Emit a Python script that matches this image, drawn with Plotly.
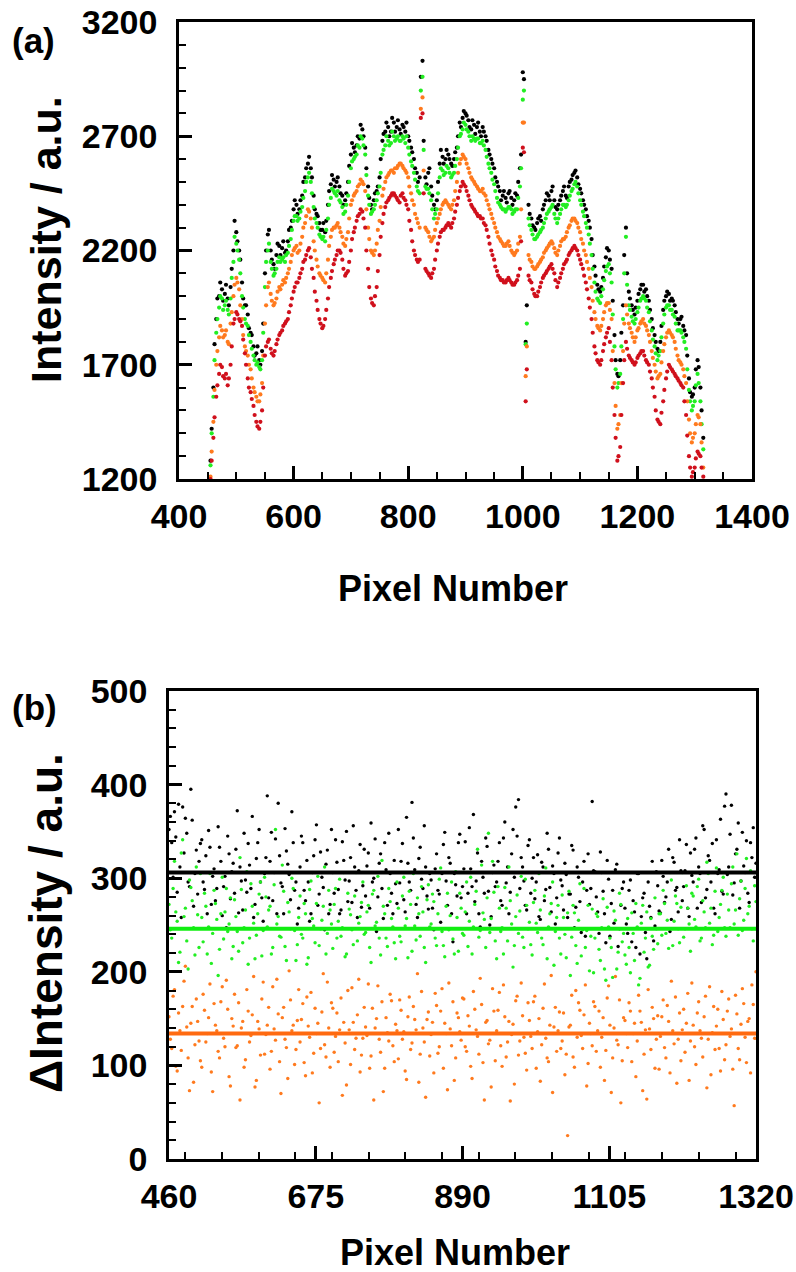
import plotly.graph_objects as go

# ---------------- panel (a) data ----------------
pixel_a = list(range(455, 1316, 5))
pixel_a_mid = list(range(457, 1313, 5))

black_a = [1280,1600,1900,2000,2030,2010,1990,2040,2200,2280,
           2200,2060,1960,1920,1840,1780,1750,1720,1760,2100,
           2270,2200,2140,2180,2220,2210,2190,2240,2300,2380,
           2400,2380,2440,2520,2580,2560,2440,2360,2320,2290,
           2280,2400,2490,2510,2500,2480,2440,2420,2500,2620,
           2650,2660,2690,2730,2650,2480,2400,2420,2460,2520,
           2680,2720,2740,2720,2760,2740,2730,2750,2720,2700,
           2650,2600,2540,2520,3030,2520,2540,2480,2400,2420,
           2580,2610,2600,2620,2580,2600,2650,2760,2780,2800,
           2770,2730,2750,2740,2720,2740,2700,2640,2600,2560,
           2500,2460,2440,2430,2450,2430,2420,2440,2560,2980,
           1800,2400,2340,2300,2320,2350,2380,2420,2440,2460,
           2420,2380,2420,2460,2440,2480,2510,2540,2520,2470,
           2420,2380,2330,2250,2130,2050,2020,2080,2170,2200,
           2120,1830,1660,1720,1960,2300,2020,1960,1920,1980,
           2030,2050,2030,1980,1900,1830,1770,1800,1940,2000,
           2010,1990,1960,1900,1900,1870,1830,1640,1560,1600,
           1720,1600,1380]

green_a = [1260,1560,1840,1950,1990,1960,1940,1990,2150,2230,
           2160,2000,1900,1870,1800,1740,1700,1690,1720,2040,
           2200,2150,2090,2120,2170,2160,2150,2190,2250,2330,
           2350,2340,2390,2460,2520,2500,2390,2320,2270,2250,
           2240,2340,2430,2460,2440,2420,2390,2370,2440,2560,
           2600,2620,2650,2690,2620,2440,2360,2380,2420,2480,
           2620,2660,2680,2670,2700,2690,2680,2700,2670,2650,
           2590,2540,2480,2450,2960,2480,2470,2420,2340,2380,
           2520,2550,2540,2560,2520,2540,2600,2700,2730,2750,
           2720,2680,2690,2690,2670,2680,2640,2580,2540,2490,
           2430,2400,2380,2370,2390,2380,2370,2380,2480,2860,
           1790,2340,2290,2250,2260,2280,2300,2340,2370,2390,
           2360,2320,2360,2400,2390,2420,2460,2490,2480,2420,
           2370,2320,2270,2180,2060,1990,1970,2030,2110,2140,
           2060,1780,1600,1660,1900,2260,1960,1910,1880,1930,
           1980,2000,1980,1930,1850,1780,1720,1760,1880,1950,
           1960,1940,1910,1850,1850,1820,1770,1590,1500,1540,
           1660,1540,1330]

orange_a = [1210,1450,1700,1820,1850,1830,1800,1880,2000,2080,
            2030,1900,1780,1740,1680,1600,1560,1540,1620,1880,
            2040,2010,1960,1990,2040,2050,2060,2100,2150,2200,
            2220,2200,2260,2320,2380,2340,2240,2160,2100,2080,
            2060,2160,2260,2300,2310,2300,2260,2220,2280,2400,
            2440,2460,2490,2500,2460,2300,2200,2180,2230,2330,
            2440,2500,2530,2550,2540,2560,2580,2570,2550,2520,
            2450,2400,2340,2300,2870,2300,2280,2240,2260,2320,
            2360,2400,2420,2400,2380,2420,2500,2580,2620,2600,
            2560,2520,2500,2480,2460,2470,2440,2400,2360,2320,
            2280,2250,2230,2220,2240,2200,2180,2200,2260,2760,
            1650,2180,2150,2120,2130,2150,2170,2200,2220,2240,
            2210,2180,2220,2250,2260,2300,2330,2340,2320,2280,
            2230,2180,2120,2040,1930,1870,1850,1900,1960,1970,
            1900,1620,1420,1480,1760,1960,1880,1840,1800,1850,
            1880,1900,1870,1830,1760,1700,1640,1660,1760,1820,
            1850,1830,1800,1740,1710,1680,1620,1460,1360,1400,
            1480,1440,1250]

red_a = [1200,1380,1560,1660,1690,1640,1610,1700,1880,1930,
         1900,1870,1750,1640,1580,1520,1450,1420,1500,1740,
         1800,1770,1740,1790,1830,1850,1880,1900,1960,2020,
         2060,2080,2120,2160,2200,2170,2080,1980,1900,1860,
         1900,1990,2080,2140,2180,2200,2160,2090,2110,2200,
         2280,2330,2360,2370,2300,2120,1990,1960,2040,2180,
         2320,2390,2420,2440,2450,2430,2410,2450,2420,2380,
         2290,2200,2160,2160,2800,2120,2100,2080,2120,2200,
         2260,2290,2300,2320,2300,2340,2400,2460,2500,2480,
         2440,2400,2380,2360,2350,2340,2310,2260,2200,2160,
         2110,2080,2070,2060,2080,2060,2050,2070,2120,2650,
         1540,2090,2060,2010,2000,2040,2080,2100,2120,2140,
         2100,2040,2080,2120,2150,2180,2200,2220,2200,2160,
         2120,2060,1990,1900,1780,1720,1700,1760,1820,1860,
         1720,1480,1280,1340,1620,1800,1740,1720,1700,1730,
         1750,1760,1720,1700,1640,1560,1460,1440,1540,1640,
         1700,1680,1660,1640,1620,1600,1480,1300,1210,1250,
         1320,1300,1210]

black_a_mid = [1420,1790,1990,2060,1980,2050,1960,2120,2330,2240,
               2160,1990,1960,1860,1830,1740,1780,1700,1880,2200,
               2290,2160,2120,2230,2180,2240,2200,2290,2330,2420,
               2360,2420,2500,2560,2610,2520,2380,2350,2290,2320,
               2330,2460,2530,2480,2520,2450,2400,2450,2570,2670,
               2630,2700,2750,2700,2560,2430,2380,2450,2480,2600,
               2710,2760,2700,2780,2720,2770,2710,2740,2760,2680,
               2630,2560,2500,2960,2680,2490,2560,2440,2380,2500,
               2640,2580,2640,2600,2570,2630,2700,2740,2810,2790,
               2740,2770,2710,2760,2700,2720,2680,2620,2580,2520,
               2480,2420,2460,2410,2460,2400,2450,2500,2620,2950,
               1960,2360,2310,2290,2340,2330,2400,2450,2420,2480,
               2390,2400,2440,2480,2430,2500,2530,2550,2490,2450,
               2400,2350,2300,2180,2090,2030,2040,2130,2210,2160,
               1980,1720,1650,1840,2180,2100,1990,1940,1950,2010,
               2050,2020,2000,1940,1860,1800,1760,1870,1980,2020,
               1980,1980,1930,1880,1910,1850,1740,1580,1570,1680,
               1690,1500]

green_a_mid = [1400,1720,1900,2000,1940,1980,1920,2080,2260,2200,
               2100,1950,1880,1830,1770,1720,1710,1680,1840,2150,
               2230,2120,2100,2150,2150,2170,2180,2220,2290,2350,
               2330,2370,2430,2500,2540,2450,2340,2300,2260,2260,
               2290,2400,2470,2450,2460,2410,2360,2400,2500,2590,
               2610,2660,2700,2660,2530,2400,2370,2400,2450,2540,
               2640,2700,2660,2720,2680,2700,2680,2690,2700,2620,
               2570,2510,2460,2900,2640,2470,2450,2380,2360,2450,
               2560,2530,2570,2540,2530,2570,2650,2710,2760,2730,
               2700,2700,2680,2690,2670,2660,2610,2560,2510,2460,
               2410,2390,2380,2380,2390,2360,2380,2430,2560,2900,
               1880,2310,2270,2250,2270,2290,2320,2360,2380,2400,
               2340,2340,2380,2400,2400,2440,2470,2500,2450,2400,
               2350,2300,2230,2120,2020,1980,2000,2070,2130,2100,
               1920,1680,1620,1780,2100,2050,1940,1890,1900,1950,
               1990,1990,1950,1890,1810,1750,1740,1820,1920,1960,
               1940,1920,1880,1850,1840,1800,1680,1540,1520,1610,
               1620,1440]

orange_a_mid = [1320,1590,1760,1870,1820,1850,1790,1930,2050,2060,
                1960,1830,1760,1700,1640,1580,1540,1570,1740,1960,
                2060,1980,1970,2020,2030,2070,2080,2120,2180,2210,
                2190,2230,2300,2350,2370,2300,2200,2130,2090,2070,
                2100,2220,2290,2300,2320,2280,2230,2250,2340,2420,
                2450,2480,2510,2490,2380,2250,2190,2200,2290,2390,
                2470,2520,2540,2550,2560,2570,2580,2560,2540,2480,
                2420,2360,2320,2820,2550,2290,2260,2250,2290,2340,
                2380,2410,2410,2390,2400,2460,2540,2600,2610,2580,
                2540,2510,2490,2470,2460,2450,2420,2380,2340,2300,
                2260,2240,2220,2230,2220,2190,2190,2230,2380,2760,
                1780,2160,2130,2120,2140,2160,2190,2210,2230,2230,
                2190,2200,2240,2250,2280,2310,2340,2330,2300,2250,
                2200,2150,2080,1980,1900,1860,1870,1930,1970,1940,
                1760,1520,1440,1620,1880,1920,1860,1820,1820,1860,
                1890,1880,1850,1800,1730,1670,1650,1710,1790,1840,
                1840,1820,1770,1720,1700,1650,1540,1400,1380,1440,
                1470,1360]

red_a_mid = [1280,1470,1610,1700,1650,1660,1640,1780,1900,1920,
             1890,1810,1700,1600,1550,1480,1430,1450,1600,1780,
             1810,1750,1760,1810,1840,1870,1890,1930,1990,2040,
             2060,2100,2150,2180,2210,2120,2020,1940,1880,1870,
             1940,2040,2110,2160,2200,2190,2120,2100,2150,2250,
             2300,2350,2380,2340,2200,2040,1970,2000,2110,2260,
             2360,2410,2430,2450,2440,2420,2440,2430,2400,2330,
             2240,2180,2150,2780,2450,2110,2090,2100,2160,2230,
             2280,2290,2310,2310,2320,2370,2430,2480,2490,2460,
             2420,2390,2370,2350,2340,2320,2290,2230,2180,2130,
             2090,2070,2060,2070,2070,2050,2060,2090,2240,2630,
             1680,2070,2030,2000,2020,2060,2090,2110,2130,2120,
             2070,2060,2100,2140,2160,2190,2210,2210,2180,2140,
             2090,2030,1950,1840,1750,1710,1720,1790,1840,1800,
             1600,1380,1300,1480,1720,1770,1730,1710,1710,1740,
             1760,1740,1710,1670,1600,1500,1450,1490,1590,1670,
             1690,1670,1650,1630,1610,1540,1390,1250,1230,1290,
             1310,1250]

# ---------------- panel (b) data ----------------
pixel_b = list(range(460, 1321, 4))
pixel_b_mid = list(range(462, 1319, 4))

dblack_b = [352,338,371,285,312,376,364,296,395,270,330,318,
            341,288,262,333,302,276,355,318,291,247,326,307,
            284,372,312,266,298,337,289,258,321,352,279,305,
            388,318,276,342,380,295,262,329,304,371,287,251,
            312,338,276,296,262,324,357,283,301,245,330,272,
            306,341,288,266,319,350,297,274,312,258,336,292,
            281,327,359,300,243,316,289,338,271,305,262,294,
            352,318,277,365,296,381,309,258,333,289,312,267,
            298,245,326,283,305,349,271,316,232,293,338,279,
            310,262,354,291,275,327,248,301,343,286,259,314,
            296,338,271,360,312,285,352,376,384,322,297,266,
            341,300,278,325,256,312,288,331,264,305,279,343,
            292,316,258,283,330,269,301,242,318,287,272,382,
            307,264,328,286,231,299,273,252,315,246,289,268,
            241,298,276,226,305,259,284,214,270,318,249,292,
            263,302,280,331,256,317,290,341,276,308,268,327,
            296,343,312,274,352,288,319,337,262,305,363,283,
            390,312,378,295,331,268,349,306,284,338,354,316]

dblack_b_mid = [366,301,344,379,258,327,348,291,362,305,283,337,
                296,324,351,272,310,289,333,260,302,345,278,316,
                331,263,297,348,285,314,366,272,338,296,254,322,
                279,349,306,262,324,291,353,315,277,338,296,268,
                345,287,319,254,306,341,271,328,290,315,262,352,
                284,317,262,339,298,275,322,356,287,308,269,331,
                313,268,296,342,280,326,257,309,348,284,319,273,
                295,337,264,316,287,343,272,321,299,356,281,305,
                268,310,287,253,336,297,322,262,305,281,347,291,
                339,284,310,368,297,262,318,284,334,250,306,291,
                318,276,343,295,262,326,301,345,289,312,271,335,
                284,322,296,259,317,276,348,290,313,251,327,298,
                266,304,283,335,247,312,275,296,238,326,289,308,
                280,241,306,262,319,238,287,309,227,271,296,251,
                287,232,264,305,219,279,242,296,258,233,307,265,
                319,274,296,243,322,287,264,308,291,336,259,303,
                331,268,305,356,279,324,296,268,341,309,286,377,
                304,347,282,326,359,297,313,340,274,322,301]

dgreen_b = [272,236,318,254,221,341,268,203,290,247,312,226,
            258,284,219,305,241,273,196,262,235,289,251,214,
            277,243,322,231,266,208,294,252,239,283,217,301,
            248,270,226,352,259,237,286,212,264,300,244,229,
            281,236,262,215,297,249,273,228,255,312,241,266,
            225,289,254,238,306,219,267,245,281,233,259,296,
            242,271,210,287,253,236,319,262,227,275,248,214,
            268,232,301,257,286,222,249,279,238,264,210,293,
            251,275,228,299,243,216,284,260,235,307,222,268,
            239,296,254,219,272,331,244,263,226,348,257,285,
            214,268,247,290,233,276,205,259,241,302,226,271,
            253,218,287,242,266,229,311,248,273,207,258,236,
            282,240,263,196,271,228,255,217,289,244,201,267,
            236,259,212,278,191,248,226,265,203,284,232,218,
            257,199,241,273,186,252,221,264,207,238,279,230,
            262,287,241,225,298,254,273,231,306,246,268,222,
            281,248,299,236,264,317,252,229,286,243,272,301,
            238,266,294,251,326,278,244,289,262,308,233,275]

dgreen_b_mid = [245,289,264,210,327,259,233,298,276,218,261,305,
                232,270,248,209,287,256,224,301,264,243,279,227,
                259,222,288,247,307,236,270,214,262,296,244,280,
                266,219,293,251,238,314,227,274,246,289,212,258,
                240,273,208,288,257,231,302,246,270,219,287,251,
                272,236,299,247,216,284,261,229,306,252,274,240,
                264,226,283,249,302,218,270,236,289,257,231,296,
                238,281,249,215,272,305,234,262,291,226,277,248,
                283,236,262,311,228,270,245,296,219,258,284,241,
                264,227,301,248,286,237,314,256,279,242,318,233,
                291,243,219,268,312,251,228,282,265,237,299,246,
                229,274,252,305,236,281,214,262,296,243,271,219,
                258,215,286,237,263,209,294,245,226,271,238,199,
                262,224,247,203,269,236,194,255,221,272,241,208,
                226,263,212,248,193,271,236,205,257,224,246,262,
                239,273,255,306,228,281,246,269,237,292,251,284,
                256,291,233,276,247,305,268,239,311,258,287,247,
                283,247,312,266,239,297,255,321,270,246,292]

dorange_b = [152,118,181,94,137,163,206,108,145,82,171,126,
             98,159,134,187,72,143,115,168,129,191,88,150,
             176,121,63,147,106,158,132,195,84,139,171,112,
             143,96,184,127,155,70,162,119,201,137,101,148,
             125,166,89,142,178,113,134,60,157,122,189,98,
             161,131,104,172,146,79,138,183,117,154,93,129,
             141,187,110,63,150,128,168,97,135,176,121,144,
             107,159,136,85,173,124,149,198,112,140,66,157,
             133,92,164,120,182,145,74,139,168,108,151,127,
             171,115,142,86,160,131,193,103,146,123,77,158,
             137,178,99,152,125,62,144,169,111,188,130,95,
             148,118,174,136,83,161,129,104,196,141,115,157,
             126,90,25,143,109,180,167,132,154,78,145,121,
             163,137,98,151,116,185,71,140,127,170,105,148,
             119,158,134,88,175,146,112,64,139,162,97,153,
             131,170,108,147,190,123,81,156,138,114,177,126,
             143,101,168,129,152,76,184,135,117,160,94,149,
             122,171,139,57,155,106,182,130,147,92,165,200]

dorange_b_mid = [128,174,99,156,116,190,141,73,163,122,147,105,
                 176,125,151,93,166,137,108,184,120,160,78,142,
                 119,167,140,98,181,125,154,77,147,111,189,133,
                 162,115,139,192,104,151,128,86,170,143,117,181,
                 149,103,173,130,92,161,145,118,198,109,140,167,
                 114,156,138,68,124,180,101,146,129,192,111,162,
                 132,97,161,140,185,114,72,151,126,169,104,137,
                 170,128,94,152,117,163,138,82,179,125,149,110,
                 146,177,113,158,97,134,188,121,84,156,136,172,
                 120,153,99,179,138,112,165,63,148,127,182,105,
                 159,121,186,109,147,133,80,174,126,153,113,167,
                 131,168,97,150,122,187,108,143,71,162,137,118,
                 156,112,141,175,98,130,159,118,186,102,134,168,
                 115,158,130,84,172,143,108,195,122,60,151,134,
                 167,104,145,126,158,73,138,181,117,150,128,96,
                 152,119,164,92,137,173,128,105,160,145,84,188,
                 120,156,137,109,174,128,90,163,142,118,179,106,
                 158,131,96,175,118,144,166,103,150,186,129]

mean_black_b = 306
mean_green_b = 246
mean_orange_b = 134

C_BLACK = "#000000"
C_GREEN = "#22ee22"
C_ORANGE = "#ff7a1e"
C_RED = "#d0101c"

FONT = "Liberation Sans, Arial, sans-serif"

fig = go.Figure()

for xs, ys, col in [(pixel_a, black_a, C_BLACK), (pixel_a_mid, black_a_mid, C_BLACK),
                    (pixel_a, green_a, C_GREEN), (pixel_a_mid, green_a_mid, C_GREEN),
                    (pixel_a, orange_a, C_ORANGE), (pixel_a_mid, orange_a_mid, C_ORANGE),
                    (pixel_a, red_a, C_RED), (pixel_a_mid, red_a_mid, C_RED)]:
    fig.add_trace(go.Scatter(x=xs, y=ys, mode="markers",
                             marker=dict(size=4.2, color=col, line=dict(width=0)),
                             xaxis="x", yaxis="y", hoverinfo="skip"))

for xs, ys, col in [(pixel_b, dblack_b, C_BLACK), (pixel_b_mid, dblack_b_mid, C_BLACK),
                    (pixel_b, dgreen_b, C_GREEN), (pixel_b_mid, dgreen_b_mid, C_GREEN),
                    (pixel_b, dorange_b, C_ORANGE), (pixel_b_mid, dorange_b_mid, C_ORANGE)]:
    fig.add_trace(go.Scatter(x=xs, y=ys, mode="markers",
                             marker=dict(size=3.4, color=col, line=dict(width=0)),
                             xaxis="x2", yaxis="y2", hoverinfo="skip"))

for m, col in [(mean_black_b, "#000000"), (mean_green_b, "#11ee11"), (mean_orange_b, "#ff6a10")]:
    fig.add_trace(go.Scatter(x=[pixel_b[0], pixel_b[-1]], y=[m, m], mode="lines",
                             line=dict(color=col, width=4),
                             xaxis="x2", yaxis="y2", hoverinfo="skip"))

W, H = 796, 1272

def px_x(a, b):
    return [a / W, b / W]

def px_y(top, bottom):
    return [1 - bottom / H, 1 - top / H]

tickfont = dict(family=FONT, size=34, color="black", weight="bold")

axis_common = dict(showgrid=False, zeroline=False, showline=True, linecolor="black",
                   linewidth=2.5, mirror=True, ticks="inside", tickwidth=2.5,
                   tickcolor="black", ticklen=13, tickfont=tickfont, automargin=False)

fig.update_layout(
    width=W, height=H, margin=dict(l=0, r=0, t=0, b=0, autoexpand=False),
    paper_bgcolor="white", plot_bgcolor="white", showlegend=False,
    xaxis=dict(domain=px_x(179, 752), range=[400, 1400], tick0=400, dtick=200,
               anchor="y", ticklabelstandoff=5,
               minor=dict(dtick=50, ticks="inside", ticklen=7, tickwidth=2, tickcolor="black"),
               **axis_common),
    yaxis=dict(domain=px_y(22, 479), range=[1200, 3200], tick0=1200, dtick=500,
               anchor="x", ticklabelstandoff=12,
               minor=dict(dtick=100, ticks="inside", ticklen=7, tickwidth=2, tickcolor="black"),
               **axis_common),
    xaxis2=dict(domain=px_x(169, 756), range=[460, 1320], tick0=460, dtick=215,
                anchor="y2", ticklabelstandoff=5,
                minor=dict(dtick=53.75, ticks="inside", ticklen=7, tickwidth=2, tickcolor="black"),
                **axis_common),
    yaxis2=dict(domain=px_y(691, 1159), range=[0, 500], tick0=0, dtick=100,
                anchor="x2", ticklabelstandoff=12,
                minor=dict(dtick=20, ticks="inside", ticklen=7, tickwidth=2, tickcolor="black"),
                **axis_common),
)

def ann(text, x, y, size, angle=0, xanchor="center", yanchor="middle"):
    fig.add_annotation(text=text, x=x / W, y=1 - y / H, xref="paper", yref="paper",
                       showarrow=False, textangle=angle, xanchor=xanchor, yanchor=yanchor,
                       font=dict(family=FONT, size=size, color="black", weight="bold"))

ann("(a)", 10, 41, 35, xanchor="left")
ann("(b)", 10, 707, 35, xanchor="left")
ann("Intensity / a.u.", 46, 240, 43, angle=-90)
ann("ΔIntensity / a.u.", 46, 923, 46, angle=-90)
ann("Pixel Number", 453, 588, 36)
ann("Pixel Number", 455, 1252, 36)

fig.write_html("out.html")
